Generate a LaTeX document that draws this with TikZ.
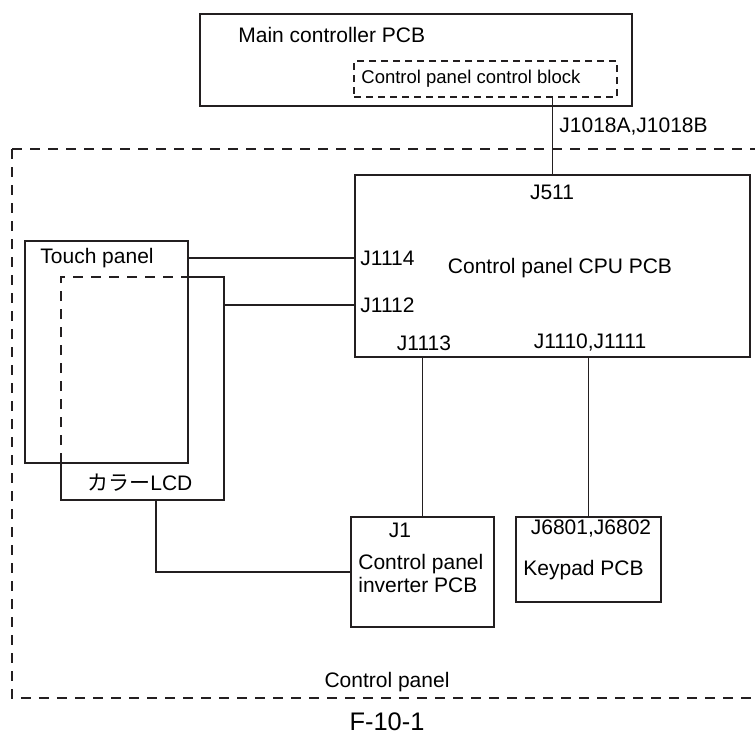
\documentclass[tikz,border=0pt]{standalone}
\usepackage{fontspec}
\setmainfont{Liberation Sans}
\newfontfamily\jpfont{Noto Sans CJK JP}
\definecolor{ink}{HTML}{231F20}

\begin{document}
\begin{tikzpicture}[
    x=0.5pt, y=-0.5pt,
    every node/.style={font=\fontsize{10.5}{11.5}\selectfont, inner sep=0pt},
    box/.style={
        draw=ink,
        line width=0.75pt,
        outer sep=0pt
    },
    wire/.style={draw=ink, line width=0.75pt},
    frame/.style={draw=ink, line width=0.75pt, dash pattern=on 5pt off 4pt},
    label/.style={anchor=west}
]
    \useasboundingbox (0,0) rectangle (755,734);

    % Main controller
    \node[box, minimum width=216pt, minimum height=46pt] (main) at (416,60) {};
    \node[label] (mainlbl) at (238,35) {Main controller PCB};
    \node[box, dash pattern=on 3.5pt off 2.5pt,
        minimum width=131.5pt, minimum height=18pt] (ctrlblk) at (485.5,79) {};
    \node[label, font=\fontsize{9.25}{11}\selectfont] (ctrlblklbl) at (361,79)
        {Control panel control block};

    % Control panel frame
    \draw[frame] (12,149) -- (760,149);
    \draw[frame] (12,149) -- (12,698) -- (760,698);
    \node (panellbl) at (387,682) {Control panel};

    % CPU PCB
    \node[box, minimum width=197.5pt, minimum height=91pt] (cpu) at (552.5,266) {};
    \node (cpulbl) at (560,268) {Control panel CPU PCB};
    \node (j511) at (552,192) {J511};
    \node[label] (j1114) at (360,258) {J1114};
    \node[label] (j1112) at (360,305) {J1112};
    \node (j1113) at (424,343) {J1113};
    \node (j1110) at (590,343) {J1110,J1111};
    \node[label] (j1018) at (559,127) {J1018A,J1018B};

    % Touch panel and LCD
    \node[box, minimum width=81.5pt, minimum height=111pt] (tp) at (106.5,352) {};
    \node[label] (tplbl) at (40,258) {Touch panel};
    \node[outer sep=0pt, minimum width=81.5pt, minimum height=111.5pt] (lcd) at (142.5,388.5) {};
    \draw[wire] (lcd.north west -| tp.east) -- (lcd.north east) -- (lcd.south east)
        -- (lcd.south west) -- (lcd.west |- tp.south);
    \draw[frame] (lcd.west |- tp.south) -- (lcd.north west) -- (lcd.north west -| tp.east);
    \node[label] (lcdlbl) at (87,483) {{\jpfont カラー}LCD};
    \coordinate (lcdout) at (156,500);

    % Inverter PCB
    \node[box, minimum width=71.5pt, minimum height=55pt] (inv) at (422.5,572) {};
    \node (j1) at (400,530) {J1};
    \node[label, align=left] (invlbl) at (358,573.5) {Control panel\\inverter PCB};

    % Keypad PCB
    \node[box, minimum width=72.5pt, minimum height=42.5pt] (kpd) at (588.5,559.5) {};
    \node (j6801) at (591,529) {J6801,J6802};
    \node[label] (kpdlbl) at (523,570) {Keypad PCB};

    % Wiring
    \draw[wire] (cpu.north) -- (cpu.north |- ctrlblk.south);
    \draw[wire] (tp.east |- j1114) -- (cpu.west |- j1114);
    \draw[wire] (lcd.east |- j1112) -- (cpu.west |- j1112);
    \draw[wire] (inv.north) -- (inv.north |- cpu.south);
    \draw[wire] (kpd.north) -- (kpd.north |- cpu.south);
    \draw[wire] (lcdout) |- (inv.west);

    \node[font=\fontsize{12.7}{14}\selectfont] (fig) at (387,722) {F-10-1};
\end{tikzpicture}
\end{document}
